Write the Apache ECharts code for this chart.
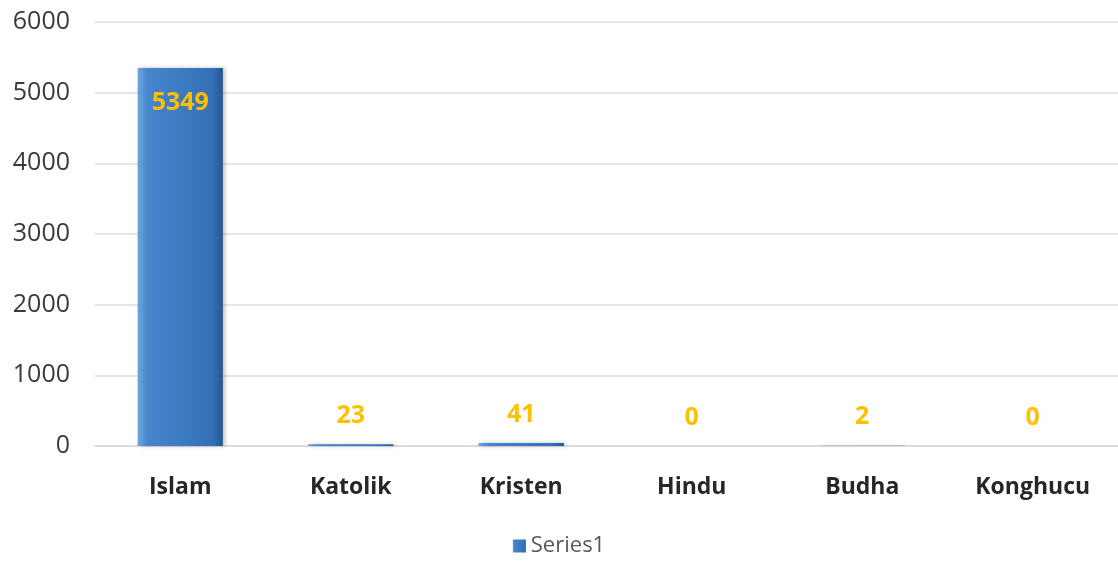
<!DOCTYPE html>
<html>
<head>
<meta charset="utf-8">
<script src="https://cdn.jsdelivr.net/npm/echarts@6/dist/echarts.min.js"></script>
<style>
  html, body { margin: 0; padding: 0; background: #fff; }
  #chart { width: 1118px; height: 562px; }
</style>
</head>
<body>
<div id="chart"></div>
<script>
// data
const categories = ['Islam', 'Katolik', 'Kristen', 'Hindu', 'Budha', 'Konghucu'];
const values = [5349, 23, 41, 0, 2, 0];
const yTicks = [0, 1000, 2000, 3000, 4000, 5000, 6000];

const chart = echarts.init(document.getElementById('chart'));

const barColor = new echarts.graphic.LinearGradient(0, 0, 1, 0, [
  { offset: 0, color: '#6ea6df' },
  { offset: 0.12, color: '#4585cc' },
  { offset: 0.88, color: '#3470b8' },
  { offset: 1, color: '#25568f' }
]);

const option = {
  animation: false,
  grid: {
    left: 95,
    right: 0,
    top: 22,
    bottom: 116, // 0 sits at y=446
    containLabel: false
  },
  legend: {
    bottom: 0,
    left: 'center',
    itemWidth: 13,
    itemHeight: 13,
    itemGap: 6,
    icon: 'rect',
    textStyle: { color: '#595959', fontSize: 22, fontFamily: 'Open Sans' },
    data: ['Series1']
  },
  xAxis: {
    type: 'category',
    data: categories,
    axisLine: { lineStyle: { color: '#d9d9d9', width: 1.5 } },
    axisTick: { show: false },
    axisLabel: {
      color: '#262626',
      fontSize: 23,
      fontWeight: 'bold',
      fontFamily: 'Open Sans',
      margin: 30
    }
  },
  yAxis: {
    type: 'value',
    min: yTicks[0],
    max: yTicks[yTicks.length - 1],
    interval: 1000,
    axisLine: { show: false },
    axisTick: { show: false },
    axisLabel: {
      color: '#3a3a3a',
      fontSize: 25,
      fontFamily: 'Open Sans',
      margin: 25,
      formatter: (v) => String(v)
    },
    splitLine: { lineStyle: { color: '#dedede', width: 1.5 } }
  },
  series: [
    {
      name: 'Series1',
      type: 'bar',
      barWidth: '50%',
      itemStyle: {
        color: barColor,
        shadowColor: 'rgba(0,0,0,0.25)',
        shadowBlur: 4,
        shadowOffsetX: 2
      },
      label: {
        show: true,
        position: 'top',
        distance: 16,
        color: '#ffc000',
        fontSize: 25,
        fontWeight: 'bold',
        fontFamily: 'Open Sans'
      },
      data: values.map((v, i) => i === 0
        ? { value: v, label: { position: 'insideTop', distance: 22 } }
        : v)
    }
  ]
};

chart.setOption(option);
</script>
</body>
</html>
